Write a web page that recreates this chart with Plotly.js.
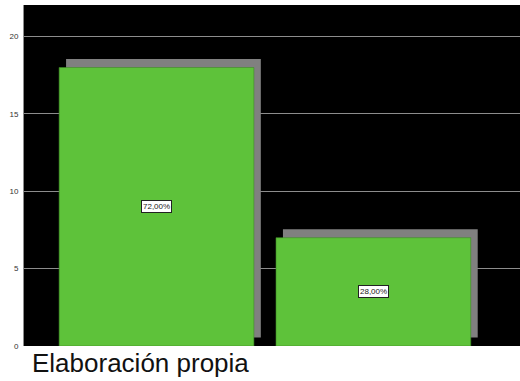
<!DOCTYPE html>
<html>
<head>
<meta charset="utf-8">
<script src="https://cdn.plot.ly/plotly-3.0.1.min.js"></script>
<style>
  html, body { margin: 0; padding: 0; background: #ffffff; }
  #chart { width: 520px; height: 381px; }
</style>
</head>
<body>
<div id="chart"></div>
<script>
// Frequencies per category
const categories = ["Sí", "No"];
const counts = [18, 7];
const yTicks = [0, 5, 10, 15, 20];
const caption = "Elaboración propia";

const total = counts.reduce((a, b) => a + b, 0);
const percentLabels = counts.map(v => (v / total * 100).toFixed(2).replace('.', ',') + '%');

const barWidth = 0.898;
const shadowDx = 0.032;   // shadow shift to the right (category units)
const shadowDy = 0.55;    // shadow lift (value units)

const shadow = {
  type: 'bar',
  x: categories,
  y: counts,
  base: counts.map(() => shadowDy),
  width: barWidth,
  offset: -barWidth / 2 + shadowDx,
  marker: { color: '#808080', line: { width: 0 } },
  hoverinfo: 'skip',
  showlegend: false
};

const bars = {
  type: 'bar',
  x: categories,
  y: counts,
  width: barWidth,
  offset: -barWidth / 2,
  marker: { color: '#5ec23a', line: { color: '#3f8a26', width: 0.6 } },
  showlegend: false
};

const labelAnnotations = categories.map((c, i) => ({
  x: c,
  y: counts[i] / 2,
  xref: 'x',
  yref: 'y',
  text: percentLabels[i],
  showarrow: false,
  font: { family: 'Liberation Sans, Arial, sans-serif', size: 8, color: '#222222' },
  bgcolor: '#ffffff',
  bordercolor: '#222222',
  borderwidth: 1,
  borderpad: 1
}));

const layout = {
  width: 520,
  height: 381,
  margin: { l: 24, r: 0, t: 5, b: 35, pad: 0 },
  paper_bgcolor: '#ffffff',
  plot_bgcolor: '#000000',
  barmode: 'overlay',
  xaxis: {
    type: 'category',
    range: [-0.611, 1.676],
    showticklabels: false,
    showgrid: false,
    zeroline: false,
    ticks: ''
  },
  yaxis: {
    range: [0, 22.04],
    tickvals: yTicks,
    ticktext: yTicks.map(String),
    tickfont: { family: 'Liberation Sans, Arial, sans-serif', size: 8, color: '#333333' },
    ticks: '',
    ticklabelstandoff: 3,
    showgrid: true,
    gridcolor: '#8c8c8c',
    gridwidth: 1,
    zeroline: false,
    showline: true,
    linecolor: '#8c8c8c',
    linewidth: 1
  },
  annotations: labelAnnotations.concat([{
    xref: 'paper',
    yref: 'paper',
    x: 0.013,
    y: -0.05,
    xanchor: 'left',
    yanchor: 'middle',
    text: caption,
    showarrow: false,
    font: { family: 'Liberation Sans, Arial, sans-serif', size: 26, color: '#111111' }
  }])
};

Plotly.newPlot('chart', [shadow, bars], layout, { displayModeBar: false, staticPlot: true });
</script>
</body>
</html>
